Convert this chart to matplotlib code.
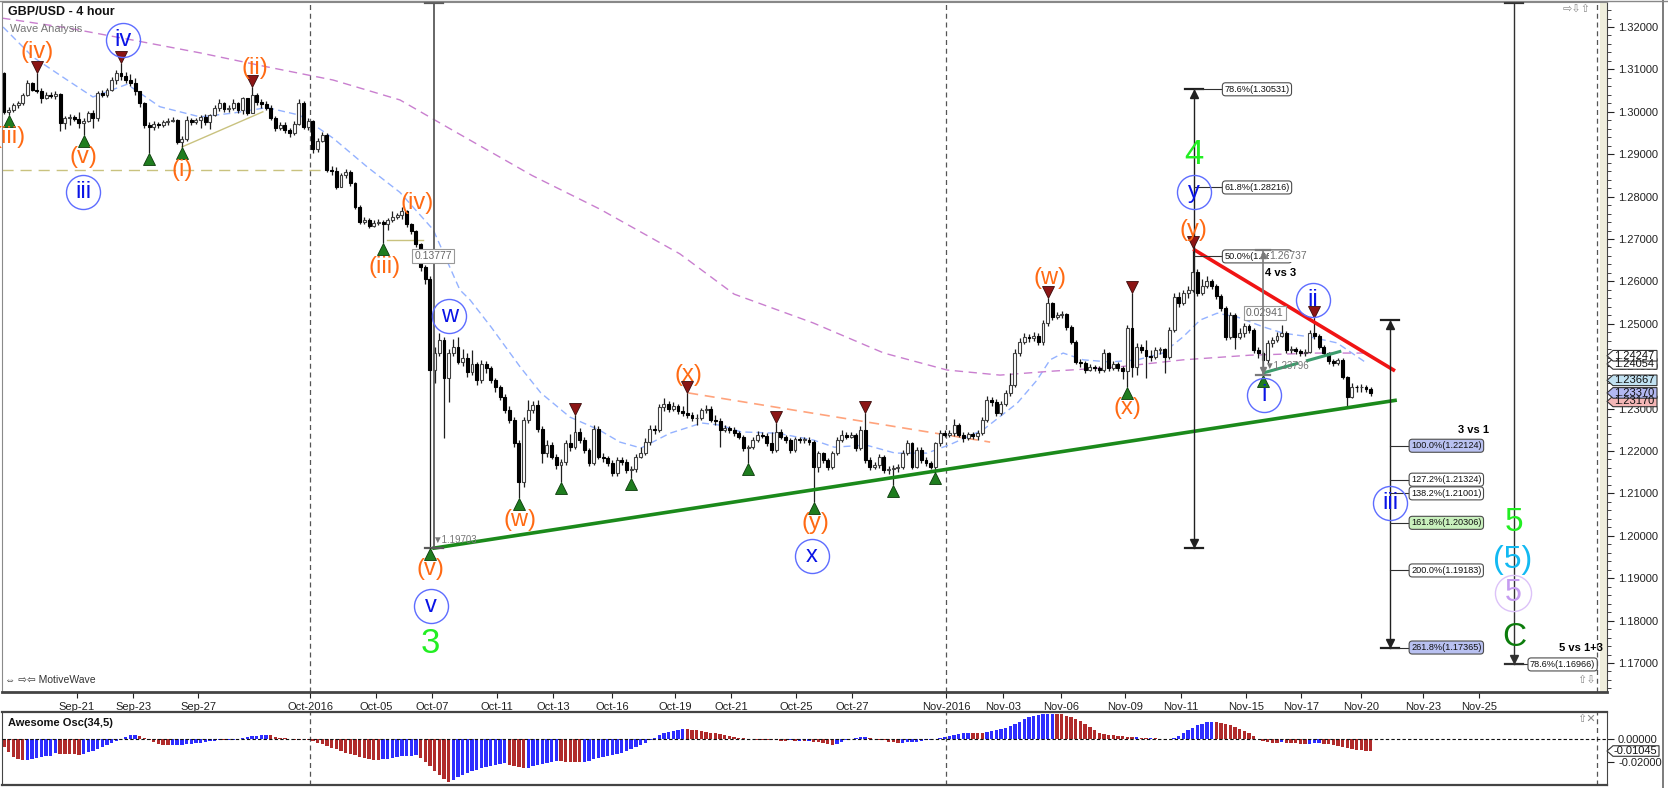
import numpy as np
import matplotlib
matplotlib.use("Agg")
import matplotlib.pyplot as plt
from matplotlib.patches import Polygon
from matplotlib.lines import Line2D
from matplotlib.ticker import MultipleLocator
from matplotlib.transforms import offset_copy, blended_transform_factory

plt.rcParams['font.family'] = ['Liberation Sans', 'DejaVu Sans']

# ---------------- DATA ----------------
first_open = 1.3091
closes = [
    1.3000, 1.3004, 1.3016, 1.3020, 1.3040, 1.3067, 1.3052, 1.3050, 1.3032, 1.3040,
    1.3038, 1.3042, 1.2973, 1.2985, 1.2988, 1.2984, 1.2973, 1.2978, 1.2998, 1.2985,
    1.3044, 1.3040, 1.3051, 1.3075, 1.3091, 1.3085, 1.3075, 1.3067, 1.3048, 1.3020,
    1.2969, 1.2965, 1.2972, 1.2968, 1.2975, 1.2978, 1.2980, 1.2929, 1.2936, 1.2981,
    1.2976, 1.2980, 1.2988, 1.2975, 1.2992, 1.3008, 1.3020, 1.3006, 1.3010, 1.3020,
    1.3004, 1.3032, 1.2998, 1.3040, 1.3022, 1.3018, 1.3010, 1.2985, 1.2961, 1.2970,
    1.2958, 1.2950, 1.2972, 1.3020, 1.2965, 1.2978, 1.2912, 1.2932, 1.2945, 1.2863,
    1.2860, 1.2823, 1.2850, 1.2858, 1.2831, 1.2776, 1.2741, 1.2745, 1.2731, 1.2737,
    1.2741, 1.2735, 1.2745, 1.2753, 1.2756, 1.2765, 1.2735, 1.2718, 1.2688, 1.2634,
    1.2605, 1.2391, 1.2430, 1.2462, 1.2372, 1.2430, 1.2446, 1.2411, 1.2419, 1.2387,
    1.2405, 1.2367, 1.2405, 1.2395, 1.2367, 1.2352, 1.2328, 1.2297, 1.2273, 1.2218,
    1.2128, 1.2273, 1.2297, 1.2308, 1.2253, 1.2195, 1.2215, 1.2187, 1.2167, 1.2175,
    1.2218, 1.2210, 1.2246, 1.2226, 1.2202, 1.2171, 1.2253, 1.2187, 1.2183, 1.2171,
    1.2147, 1.2179, 1.2175, 1.2155, 1.2158, 1.2187, 1.2195, 1.2222, 1.2253, 1.2250,
    1.2304, 1.2312, 1.2300, 1.2306, 1.2295, 1.2290, 1.2285, 1.2277, 1.2277, 1.2297,
    1.2300, 1.2273, 1.2270, 1.2250, 1.2255, 1.2250, 1.2242, 1.2234, 1.2206, 1.2210,
    1.2226, 1.2238, 1.2236, 1.2218, 1.2202, 1.2246, 1.2234, 1.2226, 1.2202, 1.2228,
    1.2226, 1.2226, 1.2222, 1.2163, 1.2195, 1.2179, 1.2163, 1.2195, 1.2226, 1.2238,
    1.2234, 1.2238, 1.2206, 1.2250, 1.2179, 1.2163, 1.2167, 1.2187, 1.2155, 1.2158,
    1.2160, 1.2163, 1.2195, 1.2218, 1.2163, 1.2202, 1.2179, 1.2171, 1.2163, 1.2218,
    1.2242, 1.2238, 1.2242, 1.2261, 1.2238, 1.2230, 1.2240, 1.2236, 1.2242, 1.2273,
    1.2320, 1.2316, 1.2289, 1.2312, 1.2336, 1.2356, 1.2430, 1.2458, 1.2470, 1.2466,
    1.2472, 1.2456, 1.2501, 1.2548, 1.2515, 1.2520, 1.2522, 1.2493, 1.2458, 1.2411,
    1.2407, 1.2391, 1.2399, 1.2395, 1.2391, 1.2430, 1.2395, 1.2405, 1.2395, 1.2388,
    1.2490, 1.2399, 1.2446, 1.2438, 1.2425, 1.2422, 1.2438, 1.2440, 1.2422, 1.2485,
    1.2564, 1.2550, 1.2572, 1.2580, 1.2623, 1.2572, 1.2590, 1.2600, 1.2590, 1.2566,
    1.2537, 1.2470, 1.2520, 1.2470, 1.2478, 1.2495, 1.2485, 1.2438, 1.2430, 1.2415,
    1.2455, 1.2462, 1.2472, 1.2478, 1.2438, 1.2440, 1.2436, 1.2430, 1.2434, 1.2478,
    1.2472, 1.2446, 1.2430, 1.2412, 1.2407, 1.2415, 1.2375, 1.2328, 1.2352, 1.2350,
    1.2350, 1.2346, 1.2337,
]
highs = [
    1.3095, 1.3012, 1.3020, 1.3025, 1.3045, 1.3075, 1.3070, 1.3091, 1.3055, 1.3046,
    1.3046, 1.3050, 1.3044, 1.2990, 1.2995, 1.2992, 1.3000, 1.2985, 1.3002, 1.3005,
    1.3050, 1.3052, 1.3056, 1.3082, 1.3098, 1.3115, 1.3094, 1.3090, 1.3080, 1.3050,
    1.3022, 1.2975, 1.2978, 1.2976, 1.2980, 1.2986, 1.2988, 1.2984, 1.2942, 1.2990,
    1.2986, 1.2986, 1.2992, 1.2995, 1.2996, 1.3015, 1.3030, 1.3024, 1.3015, 1.3030,
    1.3024, 1.3036, 1.3030, 1.3058, 1.3045, 1.3030, 1.3025, 1.3015, 1.2990, 1.2976,
    1.2976, 1.2962, 1.2978, 1.3030, 1.3025, 1.2985, 1.2980, 1.2938, 1.2952, 1.2950,
    1.2872, 1.2870, 1.2855, 1.2864, 1.2862, 1.2835, 1.2780, 1.2752, 1.2750, 1.2745,
    1.2748, 1.2745, 1.2750, 1.2765, 1.2762, 1.2775, 1.2768, 1.2738, 1.2722, 1.2690,
    1.2638, 1.2612, 1.2445, 1.2478, 1.2470, 1.2440, 1.2465, 1.2470, 1.2440, 1.2430,
    1.2438, 1.2410, 1.2415, 1.2412, 1.2400, 1.2372, 1.2355, 1.2335, 1.2305, 1.2280,
    1.2225, 1.2280, 1.2320, 1.2318, 1.2320, 1.2258, 1.2225, 1.2222, 1.2192, 1.2182,
    1.2225, 1.2240, 1.2285, 1.2255, 1.2232, 1.2208, 1.2262, 1.2258, 1.2195, 1.2188,
    1.2178, 1.2185, 1.2185, 1.2180, 1.2165, 1.2192, 1.2210, 1.2230, 1.2262, 1.2262,
    1.2312, 1.2325, 1.2318, 1.2315, 1.2312, 1.2305, 1.2337, 1.2292, 1.2288, 1.2302,
    1.2308, 1.2305, 1.2285, 1.2278, 1.2262, 1.2260, 1.2256, 1.2248, 1.2238, 1.2215,
    1.2232, 1.2248, 1.2244, 1.2242, 1.2245, 1.2266, 1.2252, 1.2238, 1.2230, 1.2234,
    1.2234, 1.2232, 1.2232, 1.2226, 1.2200, 1.2198, 1.2184, 1.2200, 1.2234, 1.2250,
    1.2245, 1.2246, 1.2242, 1.2258, 1.2290, 1.2185, 1.2175, 1.2192, 1.2190, 1.2165,
    1.2168, 1.2170, 1.2202, 1.2226, 1.2222, 1.2210, 1.2210, 1.2185, 1.2176, 1.2222,
    1.2250, 1.2250, 1.2250, 1.2275, 1.2266, 1.2244, 1.2246, 1.2246, 1.2250, 1.2280,
    1.2330, 1.2328, 1.2322, 1.2318, 1.2345, 1.2383, 1.2440, 1.2466, 1.2478, 1.2476,
    1.2480, 1.2478, 1.2508, 1.2561, 1.2552, 1.2528, 1.2530, 1.2525, 1.2498, 1.2462,
    1.2418, 1.2412, 1.2405, 1.2404, 1.2400, 1.2440, 1.2434, 1.2412, 1.2410, 1.2400,
    1.2498, 1.2573, 1.2455, 1.2452, 1.2462, 1.2438, 1.2445, 1.2446, 1.2444, 1.2492,
    1.2572, 1.2575, 1.2580, 1.2590, 1.2678, 1.2630, 1.2605, 1.2612, 1.2606, 1.2594,
    1.2570, 1.2542, 1.2528, 1.2525, 1.2490, 1.2502, 1.2500, 1.2490, 1.2445, 1.2435,
    1.2462, 1.2470, 1.2480, 1.2498, 1.2482, 1.2448, 1.2446, 1.2440, 1.2440, 1.2485,
    1.2513, 1.2476, 1.2450, 1.2434, 1.2416, 1.2420, 1.2420, 1.2378, 1.2360, 1.2356,
    1.2358, 1.2356, 1.2352,
]
lows = [
    1.2996, 1.2993, 1.3000, 1.3008, 1.3015, 1.3038, 1.3048, 1.3044, 1.3020, 1.3030,
    1.3032, 1.3030, 1.2955, 1.2960, 1.2970, 1.2978, 1.2962, 1.2945, 1.2975, 1.2962,
    1.2978, 1.3034, 1.3036, 1.3048, 1.3065, 1.3075, 1.3068, 1.3060, 1.3040, 1.3012,
    1.2962, 1.2903, 1.2958, 1.2962, 1.2964, 1.2970, 1.2975, 1.2925, 1.2918, 1.2930,
    1.2970, 1.2972, 1.2962, 1.2970, 1.2960, 1.2990, 1.3002, 1.3000, 1.3000, 1.3005,
    1.2998, 1.2994, 1.2992, 1.3000, 1.3015, 1.3010, 1.3005, 1.2980, 1.2955, 1.2958,
    1.2950, 1.2940, 1.2946, 1.2968, 1.2960, 1.2958, 1.2902, 1.2905, 1.2928, 1.2858,
    1.2850, 1.2818, 1.2822, 1.2845, 1.2825, 1.2770, 1.2735, 1.2735, 1.2725, 1.2728,
    1.2733, 1.2690, 1.2722, 1.2740, 1.2748, 1.2748, 1.2728, 1.2712, 1.2680, 1.2625,
    1.2595, 1.19703, 1.2360, 1.2425, 1.2230, 1.2316, 1.2425, 1.2405, 1.2400, 1.2375,
    1.2380, 1.2355, 1.2360, 1.2385, 1.2360, 1.2340, 1.2320, 1.2290, 1.2265, 1.2210,
    1.2088, 1.2115, 1.2265, 1.2290, 1.2245, 1.2171, 1.2185, 1.2180, 1.2158, 1.2128,
    1.2168, 1.2200, 1.2205, 1.2218, 1.2195, 1.2165, 1.2168, 1.2180, 1.2175, 1.2165,
    1.2140, 1.2142, 1.2168, 1.2148, 1.2136, 1.2150, 1.2183, 1.2190, 1.2215, 1.2240,
    1.2245, 1.2295, 1.2292, 1.2295, 1.2288, 1.2282, 1.2278, 1.2270, 1.2262, 1.2272,
    1.2290, 1.2268, 1.2262, 1.2210, 1.2245, 1.2242, 1.2235, 1.2228, 1.2200, 1.2171,
    1.2205, 1.2222, 1.2230, 1.2212, 1.2195, 1.2198, 1.2228, 1.2220, 1.2195, 1.2198,
    1.2220, 1.2218, 1.2215, 1.2080, 1.2150, 1.2172, 1.2155, 1.2158, 1.2190, 1.2222,
    1.2228, 1.2230, 1.2200, 1.2202, 1.2172, 1.2155, 1.2158, 1.2160, 1.2148, 1.2145,
    1.2120, 1.2150, 1.2158, 1.2190, 1.2158, 1.2160, 1.2172, 1.2165, 1.2158, 1.2150,
    1.2212, 1.2232, 1.2234, 1.2236, 1.2232, 1.2222, 1.2226, 1.2228, 1.2225, 1.2238,
    1.2268, 1.2305, 1.2282, 1.2284, 1.2305, 1.2330, 1.2350, 1.2425, 1.2452, 1.2458,
    1.2460, 1.2450, 1.2450, 1.2495, 1.2508, 1.2512, 1.2514, 1.2486, 1.2452, 1.2405,
    1.2398, 1.2385, 1.2388, 1.2388, 1.2384, 1.2386, 1.2388, 1.2390, 1.2388, 1.2370,
    1.2352, 1.2375, 1.2380, 1.2430, 1.2372, 1.2412, 1.2418, 1.2428, 1.2383, 1.2418,
    1.2480, 1.2540, 1.2545, 1.2562, 1.2575, 1.2565, 1.2568, 1.2585, 1.2582, 1.2558,
    1.2530, 1.2462, 1.2465, 1.2440, 1.2465, 1.2470, 1.2478, 1.2430, 1.2420, 1.2380,
    1.2408, 1.2445, 1.2458, 1.2468, 1.2432, 1.2430, 1.2428, 1.2424, 1.2424, 1.2430,
    1.2465, 1.2440, 1.2424, 1.2405, 1.2400, 1.2402, 1.2370, 1.2304, 1.2325, 1.2340,
    1.2338, 1.2340, 1.2330,
]
awesome_osc = [
    -0.0065, -0.0110, -0.0155, -0.0176, -0.0185,
    -0.0182, -0.0176, -0.0168, -0.0160, -0.0152, -0.0145, -0.0126,
    -0.0128, -0.0130, -0.0133, -0.0135, -0.0136,
    -0.0128, -0.0115, -0.0100, -0.0085, -0.0068, -0.0050,
    -0.0030, -0.0012, 0.0005,
    0.0022, 0.0035, 0.0038, 0.0030,
    0.0010, -0.0008, -0.0025, -0.0040, -0.0050, -0.0055,
    -0.0052, -0.0050, -0.0047, -0.0044, -0.0040, -0.0035, -0.0030, -0.0025, -0.0018, -0.0012,
    -0.0008, -0.0010, -0.0005, -0.0002,
    0.0005, 0.0012, 0.0020, 0.0027, 0.0033, 0.0038, 0.0042,
    0.0035, 0.0025, 0.0015,
    0.0008, 0.0004, -0.0002, -0.0003, 0.0002, -0.0004,
    -0.0015, -0.0030, -0.0045, -0.0060, -0.0075, -0.0090, -0.0105, -0.0118, -0.0130, -0.0142,
    -0.0155, -0.0165, -0.0175, -0.0182, -0.0186,
    -0.0180, -0.0172, -0.0165, -0.0158, -0.0152, -0.0148, -0.0145, -0.0143,
    -0.0170, -0.0200, -0.0240, -0.0280, -0.0320, -0.0355, -0.0378,
    -0.0360, -0.0340, -0.0320, -0.0300, -0.0285, -0.0270, -0.0258, -0.0248, -0.0238, -0.0228,
    -0.0220, -0.0214,
    -0.0225, -0.0238, -0.0250, -0.0259,
    -0.0252, -0.0240, -0.0228, -0.0218, -0.0208, -0.0200, -0.0195, -0.0198, -0.0200, -0.0203,
    -0.0205, -0.0207, -0.0200, -0.0190, -0.0180, -0.0170, -0.0160, -0.0150, -0.0140, -0.0130,
    -0.0118, -0.0105, -0.0090, -0.0072, -0.0052, -0.0030, -0.0008,
    0.0015, 0.0035, 0.0052, 0.0065, 0.0076, 0.0084, 0.0089,
    0.0088, 0.0085, 0.0080, 0.0075, 0.0068, 0.0060, 0.0052, 0.0045, 0.0038, 0.0030,
    0.0022, 0.0015, 0.0010, 0.0005, 0.0001,
    -0.0004, -0.0007, -0.0008, -0.0010, -0.0008, -0.0011, -0.0012, -0.0010, -0.0013, -0.0012,
    -0.0015, -0.0014,
    -0.0020, -0.0028, -0.0036, -0.0045, -0.0054,
    -0.0040, -0.0025, -0.0010,
    0.0005, 0.0012, 0.0018, 0.0020, 0.0016,
    0.0005, -0.0005, -0.0010,
    -0.0020, -0.0028, -0.0030, -0.0029, -0.0027, -0.0024, -0.0020, -0.0015,
    -0.0008, -0.0004, 0.0002, 0.0010, 0.0018,
    0.0032, 0.0042, 0.0048, 0.0055, 0.0058,
    0.0057, 0.0056, 0.0055,
    0.0062, 0.0070, 0.0080, 0.0090, 0.0102, 0.0116, 0.0135, 0.0158, 0.0180, 0.0198,
    0.0212, 0.0220,
    0.0222, 0.0223, 0.0224,
    0.0223, 0.0222,
    0.0210, 0.0196, 0.0180, 0.0160, 0.0135, 0.0110, 0.0080,
    0.0058, 0.0048, 0.0042, 0.0038, 0.0034, 0.0030, 0.0025, 0.0020, 0.0022, 0.0016,
    0.0013, 0.0015,
    0.0008, 0.0005, 0.0002, 0.0001,
    0.0012, 0.0030, 0.0055, 0.0080, 0.0105, 0.0125, 0.0140, 0.0152, 0.0158,
    0.0156, 0.0150, 0.0140, 0.0128, 0.0112, 0.0095, 0.0075, 0.0055, 0.0030,
    0.0005, -0.0015, -0.0025, -0.0030, -0.0032, -0.0028,
    -0.0030, -0.0033, -0.0036, -0.0040, -0.0042,
    -0.0040, -0.0036, -0.0034,
    -0.0038, -0.0045, -0.0052, -0.0060, -0.0068, -0.0076, -0.0084, -0.0092, -0.0098, -0.0100,
    -0.01045,
]

# moving averages (candle index, price)
ma_fast_x = [-0.2, 6.2, 13.5, 19.0, 26.3, 33.3, 41.9, 48.9, 56.2, 63.2, 70.3, 77.6, 84.6, 91.7,
             97.4, 99.6, 104.1, 110.3, 114.7, 120.9, 127.1, 131.6, 136.1, 142.3, 149.1, 153.0,
             157.5, 165.2, 172.9, 177.4, 184.2, 190.4, 197.2, 202.1, 209.2, 216.5, 220.7, 223.5,
             226.3, 230.6, 236.3, 242.1, 247.6, 251.9, 255.6, 259.2, 263.5, 269.0, 273.3, 279.1,
             284.8, 290.8]
ma_fast_y = [1.3200, 1.3129, 1.3075, 1.3035, 1.3065, 1.3012, 1.2988, 1.2997, 1.3010, 1.2992,
             1.2938, 1.2870, 1.2810, 1.2722, 1.2580, 1.2556, 1.2492, 1.2398, 1.2337, 1.2280,
             1.2250, 1.2221, 1.2207, 1.2242, 1.2266, 1.2261, 1.2245, 1.2242, 1.2226, 1.2209,
             1.2214, 1.2195, 1.2195, 1.2215, 1.2250, 1.2313, 1.2367, 1.2415, 1.2431, 1.2415,
             1.2410, 1.2415, 1.2431, 1.2469, 1.2509, 1.2525, 1.2516, 1.2493, 1.2478, 1.2469,
             1.2455, 1.2410]
ma_slow_x = [-0.4, 13.5, 27.6, 41.9, 56.2, 70.3, 84.6, 95.3, 112.8, 127.4, 144.4, 156.0, 172.9,
             188.0, 201.5, 212.8, 223.5, 237.8, 251.9, 266.2, 280.6, 290.4]
ma_slow_y = [1.3221, 1.3198, 1.3169, 1.3139, 1.3106, 1.3075, 1.3028, 1.2960, 1.2850, 1.2770,
             1.2665, 1.2570, 1.2502, 1.2431, 1.2391, 1.2379, 1.2388, 1.2398, 1.2415, 1.2426,
             1.2431, 1.2431]

pivot_lows = [1, 17, 31, 38, 81, 91, 110, 119, 134, 159, 173, 190, 199, 240, 269]
pivot_highs = [7, 25, 53, 122, 146, 165, 184, 223, 241, 254, 280]

date_labels = ['Sep-21', 'Sep-23', 'Sep-27', 'Oct-2016', 'Oct-05', 'Oct-07', 'Oct-11', 'Oct-13',
               'Oct-16', 'Oct-19', 'Oct-21', 'Oct-25', 'Oct-27', 'Nov-2016', 'Nov-03', 'Nov-06',
               'Nov-09', 'Nov-11', 'Nov-15', 'Nov-17', 'Nov-20', 'Nov-23', 'Nov-25']
date_pos = [15.6, 27.6, 41.5, 65.4, 79.5, 91.5, 105.3, 117.3, 129.9, 143.4, 155.3, 169.2, 181.2,
            201.3, 213.5, 225.9, 239.5, 251.5, 265.4, 277.1, 289.9, 303.2, 315.2]

fib_4_levels = [1.30531, 1.28216, 1.26590]
fib_4_text = ['78.6%(1.30531)', '61.8%(1.28216)', '50.0%(1.26590)']
fib_3v1_levels = [1.22124, 1.21324, 1.21001, 1.20306, 1.19183, 1.17365]
fib_3v1_text = ['100.0%(1.22124)', '127.2%(1.21324)', '138.2%(1.21001)', '161.8%(1.20306)',
                '200.0%(1.19183)', '261.8%(1.17365)']
fib_3v1_fill = ['#b9c1f1', 'white', 'white', '#c9f1bd', 'white', '#b9c1f1']

tag_values = [1.24054, 1.24247, 1.23170, 1.23667, 1.23370]
tag_fill = ['white', 'white', '#f4b6b6', '#c2e2f2', '#b3b8f2']

# ---------------- FIGURE ----------------
W, H = 1668, 788
fig = plt.figure(figsize=(W / 100, H / 100), dpi=100)
fig.patch.set_facecolor('white')


def fx(px):
    return px / W


def fy(py):
    return 1 - py / H


ax = fig.add_axes([fx(2), fy(692), fx(1607) - fx(2), fy(2) - fy(692)])
axo = fig.add_axes([fx(2), fy(785), fx(1607) - fx(2), fy(712) - fy(785)])

XMIN, XMAX = -0.43, 342.5
PMIN, PMAX = 1.16316, 1.32590

c = np.array(closes)
h = np.array(highs)
l = np.array(lows)
o = np.concatenate([[first_open], c[:-1]])
idx = np.arange(len(c))
up = c >= o
body = np.where(np.abs(c - o) < 0.00012, 0.00012, c - o)

# beige ruler strip next to the price scale (behind everything)
ax.axvspan(340.9, 342.5, color='#efeedc', lw=0, zorder=0)

# vertical dashed separators
for xv in (65.4, 201.3, 340.4):
    ax.axvline(xv, color='#555555', lw=0.9, ls=(0, (4, 3)), zorder=1)
    axo.axvline(xv, color='#555555', lw=0.9, ls=(0, (4, 3)), zorder=1)

# moving averages
ax.plot(ma_fast_x, ma_fast_y, color='#94b2ff', lw=1.0, ls=(0, (5, 3)), zorder=2)
ax.plot(ma_slow_x, ma_slow_y, color='#c97fcf', lw=1.0, ls=(0, (6, 4)), zorder=2)

# olive helper lines
ax.plot([XMIN, 68.6], [1.2863, 1.2863], color='#c9c27f', lw=1.0, ls=(0, (8, 5)), zorder=2)
ax.plot([81.8, 89.5], [1.2698, 1.2698], color='#c9c27f', lw=1.0, zorder=2)
ax.plot([38.0, 55.3], [1.2917, 1.3000], color='#c9c27f', lw=1.0, zorder=2)
# orange dashed
ax.plot([146.2, 210.7], [1.2337, 1.2221], color='#ffa37c', lw=1.2, ls=(0, (6, 4)), zorder=2)

# candles
ax.vlines(idx, l, h, color='#1e1e1e', lw=0.9, zorder=3)
ax.bar(idx[up], body[up], bottom=o[up], width=0.62, color='white', edgecolor='#404040',
       lw=0.8, zorder=4)
ax.bar(idx[~up], body[~up], bottom=o[~up], width=0.62, color='black', edgecolor='black',
       lw=0.8, zorder=4)

# trend lines
ax.plot([91.5, 297.6], [1.19703, 1.2320], color='#1b8a1b', lw=2.6, zorder=5, solid_capstyle='butt')
ax.plot([254.1, 297.2], [1.2676, 1.2389], color='#f01414', lw=2.6, zorder=5, solid_capstyle='butt')
ax.plot([269.0, 286.5], [1.2384, 1.2438], color='#3c9c6c', lw=2.2, ls=(0, (12, 2.6)), zorder=5)

# pivot markers
tr_lo = offset_copy(ax.transData, fig=fig, x=0, y=-6, units='dots')
tr_hi = offset_copy(ax.transData, fig=fig, x=0, y=6, units='dots')
ax.plot(pivot_lows, l[pivot_lows], ls='none', marker='^', ms=8, mfc='#1f7d1f', mec='#0b3b0b',
        mew=0.6, transform=tr_lo, zorder=7, clip_on=False)
ax.plot(pivot_highs, h[pivot_highs], ls='none', marker='v', ms=8, mfc='#8c1515', mec='#3b0b0b',
        mew=0.6, transform=tr_hi, zorder=7)

# measurement lines
tr_dn = offset_copy(ax.transData, fig=fig, x=0, y=-5, units='dots')
tr_up = offset_copy(ax.transData, fig=fig, x=0, y=5, units='dots')


def vmeasure(x, bottom, top, color, lw=1.0, cap=1.9, cap_top=True, cap_bot=True,
             arr_top=True, arr_bot=True, ms=6, z=6):
    ax.plot([x, x], [bottom, top], color=color, lw=lw, zorder=z)
    if cap_top:
        ax.plot([x - cap, x + cap], [top, top], color=color, lw=1.6, zorder=z)
    if cap_bot:
        ax.plot([x - cap, x + cap], [bottom, bottom], color=color, lw=1.6, zorder=z)
    if arr_top:
        ax.plot([x], [top], marker='^', ms=ms, color=color, transform=tr_dn, zorder=z)
    if arr_bot:
        ax.plot([x], [bottom], marker='v', ms=ms, color=color, transform=tr_up, zorder=z)


def fbox(x, y, s, fc='white'):
    ax.text(x + 0.45, y, s, fontsize=6.6, ha='left', va='center', color='#111111', zorder=9,
            bbox=dict(boxstyle='round,pad=0.22,rounding_size=0.35', fc=fc, ec='#4c4c4c', lw=0.8))


vmeasure(91.9, 1.19703, PMAX - 0.0003, '#5a5a5a', lw=1.3, cap=2.0, arr_top=False, arr_bot=False)
vmeasure(254.3, 1.19703, 1.30531, '#202020')
vmeasure(296.2, 1.17365, 1.2510, '#202020')
vmeasure(322.6, 1.16986, PMAX - 0.0003, '#303030', arr_top=False)

for lv, s in zip(fib_4_levels, fib_4_text):
    ax.plot([254.3, 260.3], [lv, lv], color='#303030', lw=0.8, zorder=6)
    fbox(260.3, lv, s)
for lv, s, fc in zip(fib_3v1_levels, fib_3v1_text, fib_3v1_fill):
    ax.plot([296.2, 300.2], [lv, lv], color='#303030', lw=0.8, zorder=6)
    fbox(300.2, lv, s, fc)
ax.plot([322.6, 325.6], [1.16966, 1.16966], color='#303030', lw=0.8, zorder=6)
fbox(325.6, 1.16966, '78.6%(1.16966)')

# "4 vs 3" measure drawn over the 50% box
ax.text(270.4, 1.2659, '1.26737', fontsize=7.5, color='#707070', ha='left', va='center', zorder=10,
        bbox=dict(boxstyle='square,pad=0.05', fc='white', ec='none'))
vmeasure(269.0, 1.23796, 1.26737, '#7a7a7a', lw=1.2, cap=1.6, ms=5, z=11)

ax.text(317.2, 1.2250, '3 vs 1', fontsize=8, fontweight='bold', ha='right', va='center', zorder=9)
ax.text(341.6, 1.1735, '5 vs 1+3', fontsize=8, fontweight='bold', ha='right', va='center', zorder=9)
ax.text(269.4, 1.2620, '4 vs 3', fontsize=8, fontweight='bold', ha='left', va='center', zorder=9)
ax.text(265.3, 1.2525, '0.02941', fontsize=7.5, color='#666666', ha='left', va='center', zorder=10,
        bbox=dict(boxstyle='square,pad=0.2', fc='white', ec='#999999', lw=0.8))
ax.text(269.2, 1.2400, '▼1.23796', fontsize=7, color='#777777', ha='left', va='center', zorder=10)
ax.text(91.7, 1.2660, '0.13777', fontsize=7.5, color='#666666', ha='center', va='center', zorder=10,
        bbox=dict(boxstyle='square,pad=0.2', fc='white', ec='#999999', lw=0.8))
ax.text(91.4, 1.1990, '▼1.19703', fontsize=7, color='#777777', ha='left', va='center', zorder=10)

# wave labels
ORANGE = '#ff6a13'


def olabel(x, y, s):
    ax.text(x, y, s, color=ORANGE, fontsize=17, ha='center', va='center', zorder=8)


def clabel(x, y, s, color='#0a14e6', ring='#5d6cff', fs=17, ms=24.5):
    ax.plot([x], [y], marker='o', ms=ms, mfc='none', mec=ring, mew=1.0, zorder=8)
    ax.text(x, y, s, color=color, fontsize=fs, ha='center', va='center', zorder=9)


orange_labels = [(1.1, 1.2941, '(iii)'), (7.1, 1.3141, '(iv)'), (16.9, 1.2893, '(v)'),
                 (38.0, 1.2863, '(i)'), (53.6, 1.3103, '(ii)'), (81.4, 1.2634, '(iii)'),
                 (88.2, 1.2785, '(iv)'), (91.2, 1.1922, '(v)'), (110.3, 1.2037, '(w)'),
                 (146.2, 1.2379, '(x)'), (173.3, 1.2030, '(y)'), (223.5, 1.2608, '(w)'),
                 (240.0, 1.2301, '(x)'), (254.1, 1.2721, '(y)')]
for x, y, s in orange_labels:
    olabel(x, y, s)

circle_labels = [(16.9, 1.2811, 'iii'), (25.4, 1.3169, 'iv'), (91.2, 1.1834, 'v'),
                 (95.1, 1.2518, 'w'), (172.6, 1.1952, 'x'), (254.3, 1.2811, 'y'),
                 (269.2, 1.2332, 'i'), (279.7, 1.2556, 'ii'), (296.2, 1.2077, 'iii')]
for x, y, s in circle_labels:
    clabel(x, y, s)

ax.text(91.2, 1.1745, '3', color='#22ee22', fontsize=25, ha='center', va='center', zorder=8)
ax.text(254.3, 1.2900, '4', color='#22ee22', fontsize=25, ha='center', va='center', zorder=8)
ax.text(322.6, 1.2032, '5', color='#22ee22', fontsize=24, ha='center', va='center', zorder=8)
ax.text(322.4, 1.1943, '(5)', color='#12b9f2', fontsize=23, ha='center', va='center', zorder=8)
clabel(322.4, 1.1865, '5', color='#c59cf0', ring='#dcc2f8', fs=22, ms=26)
ax.text(322.6, 1.1759, 'C', color='#0c7c0c', fontsize=24, ha='center', va='center', zorder=8)

# axes cosmetics (price)
ax.set_xlim(XMIN, XMAX)
ax.set_ylim(PMIN, PMAX)
ax.yaxis.tick_right()
yt = np.round(np.arange(1.17, 1.3201, 0.01), 2)
ax.set_yticks(yt)
ax.set_yticklabels([f'{v:.5f}' for v in yt])
ax.yaxis.set_minor_locator(MultipleLocator(0.002))
ax.tick_params(axis='y', which='major', direction='out', length=5, pad=3, labelsize=8,
               colors='#222222')
ax.tick_params(axis='y', which='minor', direction='out', length=3, color='#222222')
ax.set_xticks(date_pos)
ax.set_xticklabels(date_labels)
ax.tick_params(axis='x', direction='out', length=4, pad=3, labelsize=8, colors='#222222')
for side in ('top', 'left'):
    ax.spines[side].set_color('#8a8a8a')
ax.spines['right'].set_color('#444444')
ax.spines['bottom'].set_color('#444444')
ax.spines['bottom'].set_linewidth(2.0)

# oscillator
aov = np.array(awesome_osc)
rising = np.concatenate([[False], aov[1:] > aov[:-1]])
cols = np.where(rising, '#2d2dff', '#b02b2b')
axo.bar(np.arange(len(aov)), aov, width=0.72, color=cols, lw=0, zorder=2)
axo.axhline(0, color='#111111', lw=0.8, ls=(0, (3, 2)), zorder=3)
axo.set_xlim(XMIN, XMAX)
axo.set_ylim(-0.0408, 0.0244)
axo.set_xticks([])
axo.yaxis.tick_right()
axo.set_yticks([0.0, -0.02])
axo.set_yticklabels(['0.00000', '-0.02000'])
axo.tick_params(axis='y', direction='out', length=5, pad=3, labelsize=8, colors='#222222')
for side in ('top', 'bottom', 'left', 'right'):
    axo.spines[side].set_color('#444444')
axo.spines['top'].set_linewidth(1.6)
axo.spines['bottom'].set_linewidth(1.6)

# price tags on the right axis
tb = blended_transform_factory(fig.transFigure, ax.transData)
hh = 0.00125
for p, fc in zip(tag_values, tag_fill):
    poly = Polygon([[fx(1607), p], [fx(1613), p + hh], [fx(1657), p + hh], [fx(1657), p - hh],
                    [fx(1613), p - hh]], closed=True, transform=tb, fc=fc, ec='#333333', lw=0.8,
                   zorder=10)
    fig.add_artist(poly)
    fig.text(fx(1614), p, f'{p:.5f}', transform=tb, fontsize=8, va='center', ha='left',
             color='#111111', zorder=11)
tbo = blended_transform_factory(fig.transFigure, axo.transData)
ao_last = awesome_osc[-1]
hho = 0.0047
fig.add_artist(Polygon([[fx(1607), ao_last], [fx(1613), ao_last + hho], [fx(1659), ao_last + hho],
                        [fx(1659), ao_last - hho], [fx(1613), ao_last - hho]], closed=True,
                       transform=tbo, fc='white', ec='#333333', lw=0.8, zorder=10))
fig.text(fx(1614), ao_last, f'{ao_last:.5f}', transform=tbo, fontsize=8, va='center', ha='left',
         color='#111111', zorder=11)

# outer frame
fig.add_artist(Line2D([fx(1663), fx(1663)], [0, 1], color='#666666', lw=1.2))
fig.add_artist(Line2D([0, 1], [fy(1), fy(1)], color='#888888', lw=1.0))

# texts
fig.text(fx(8), fy(12), 'GBP/USD - 4 hour', fontsize=9, fontweight='bold', va='center',
         color='#111111')
fig.text(fx(10), fy(29), 'Wave Analysis', fontsize=8, va='center', color='#777777')
fig.text(fx(5), fy(680), '⇔ ⇨⇦ MotiveWave', fontsize=7.5, va='center', color='#333333')
fig.text(fx(1563), fy(9), '⇨⇩⇧', fontsize=8, va='center', color='#8a8a8a')
fig.text(fx(1577), fy(680), '⇧⇩', fontsize=8, va='center', color='#8a8a8a')
fig.text(fx(1577), fy(719), '⇧✕', fontsize=8, va='center', color='#8a8a8a')
fig.text(fx(8), fy(723), 'Awesome Osc(34,5)', fontsize=8, fontweight='bold', va='center',
         color='#111111')

fig.savefig('out.png', dpi=100)
